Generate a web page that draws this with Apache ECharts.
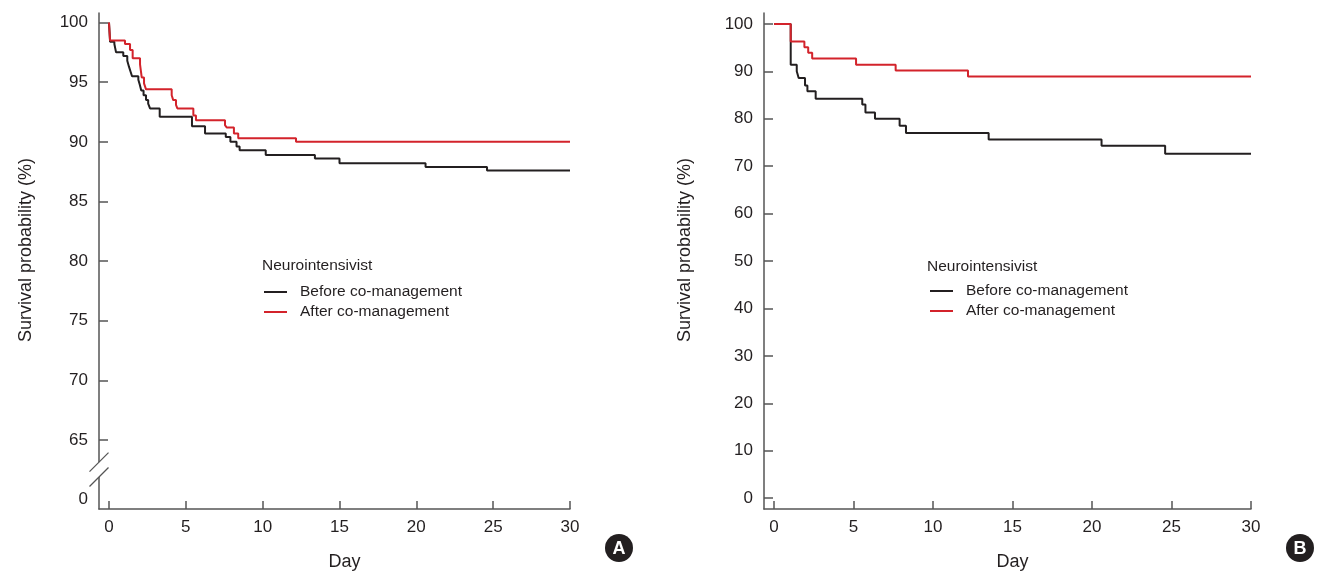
<!DOCTYPE html>
<html>
<head>
<meta charset="utf-8">
<script src="https://cdn.jsdelivr.net/npm/echarts@6/dist/echarts.min.js"></script>
<style>
html,body{margin:0;padding:0;background:#fff;}
#c{width:1320px;height:577px;}
</style>
</head>
<body>
<div id="c"></div>
<script>
// ---- data ----
const xTicks = [0, 5, 10, 15, 20, 25, 30];
const yTicksA = [65, 70, 75, 80, 85, 90, 95, 100];
const yLabelsA = [60, 65, 70, 75, 80, 85, 90, 95, 100]; // 60 is shown as "0" (broken axis)
const yTicksB = [0, 10, 20, 30, 40, 50, 60, 70, 80, 90, 100];

const beforeA_t = [0, 0.07, 0.35, 0.46, 0.93, 1.19, 1.3, 1.4, 1.5, 1.91, 2.0, 2.1, 2.25, 2.41, 2.55, 2.67, 3.3, 5.4, 6.25, 7.6, 7.9, 8.3, 8.5, 10.2, 13.4, 15.0, 20.6, 24.6, 30];
const beforeA_s = [100, 98.4, 98.2, 97.5, 97.2, 96.8, 96.3, 95.9, 95.5, 95.2, 94.8, 94.3, 93.9, 93.5, 93.2, 92.8, 92.1, 91.3, 90.7, 90.4, 90.0, 89.6, 89.3, 88.9, 88.6, 88.2, 87.9, 87.6, 87.6];

const afterA_t = [0, 0.07, 1.04, 1.37, 1.54, 2.02, 2.13, 2.28, 2.41, 4.08, 4.18, 4.36, 4.45, 5.49, 5.66, 7.55, 7.66, 8.13, 8.41, 12.17, 30];
const afterA_s = [100, 98.5, 98.2, 97.7, 97.0, 96.5, 95.4, 94.9, 94.4, 93.9, 93.5, 93.1, 92.8, 92.2, 91.8, 91.4, 91.2, 90.7, 90.3, 90.0, 90.0];

const beforeB_t = [0, 1.05, 1.43, 1.55, 1.95, 2.1, 2.62, 5.55, 5.75, 6.35, 7.9, 8.3, 13.5, 20.6, 24.6, 30];
const beforeB_s = [100, 91.4, 90.0, 88.6, 87.0, 85.8, 84.2, 83.0, 81.3, 80.0, 78.5, 77.0, 75.6, 74.3, 72.6, 72.6];

const afterB_t = [0, 1.05, 1.91, 2.15, 2.4, 5.16, 7.65, 12.2, 30];
const afterB_s = [100, 96.3, 95.1, 93.9, 92.7, 91.4, 90.2, 88.9, 88.9];

const seriesNames = ['Before co-management', 'After co-management'];
const legendTitle = 'Neurointensivist';

// axis extents / break positions
const xMinA = -0.65, xMinB = -0.63, xMax = 30;
const yMinA = 59.22, yMaxA = 100.8;
const yMinB = -2.3, yMaxB = 102.3;
const breakVals = [63.15, 61.9];

// ---- styling ----
const FONT = '"Liberation Sans", Arial, sans-serif';
const TXT = '#231f20';
const AX = '#555555';
const BLACK = '#231f20';
const RED = '#d3232b';

function zip(t, s) { return t.map((v, i) => [v, s[i]]); }

function xAxis(gi, min, shift) {
  return {
    type: 'value', gridIndex: gi, min: min, max: xMax,
    name: 'Day', nameLocation: 'middle', nameGap: 44,
    nameTextStyle: { fontFamily: FONT, fontSize: 18, color: TXT, padding: [0, 0, 0, shift] },
    axisLine: { show: true, onZero: false, lineStyle: { color: AX, width: 1.5 } },
    axisTick: { show: true, inside: true, length: 8, customValues: xTicks, lineStyle: { color: AX, width: 1.5 } },
    axisLabel: { customValues: xTicks, margin: 10, fontFamily: FONT, fontSize: 17, color: TXT },
    splitLine: { show: false }
  };
}
function yAxis(gi, min, max, ticks, labels, fmt, gap) {
  return {
    type: 'value', gridIndex: gi, min: min, max: max,
    name: 'Survival probability (%)', nameLocation: 'middle', nameGap: gap, nameRotate: 90,
    nameTextStyle: { fontFamily: FONT, fontSize: 18, color: TXT, padding: [0, 0, 0, 22] },
    axisLine: { show: true, onZero: false, lineStyle: { color: AX, width: 1.5 } },
    axisTick: { show: true, inside: true, length: 9, customValues: ticks, lineStyle: { color: AX, width: 1.5 } },
    axisLabel: { customValues: labels, margin: 11, fontFamily: FONT, fontSize: 17, color: TXT, formatter: fmt },
    splitLine: { show: false }
  };
}
function line(name, data, color, xi) {
  return {
    name: name, type: 'line', step: 'end', xAxisIndex: xi, yAxisIndex: xi,
    data: data, showSymbol: false, symbol: 'none', color: color,
    lineStyle: { color: color, width: 2 }, animation: false, silent: true
  };
}
const legendText = { fontFamily: FONT, fontSize: 15.5, color: TXT, lineHeight: 18, padding: [0, 0, 0, 8] };

const chart = echarts.init(document.getElementById('c'), null, { renderer: 'canvas' });
const option = {
  backgroundColor: '#fff',
  animation: false,
  grid: [
    { left: 99, right: 750, top: 13, bottom: 68 },
    { left: 764, right: 69, top: 13, bottom: 68 }
  ],
  title: [
    { text: legendTitle, left: 257, top: 253, textStyle: { fontFamily: FONT, fontSize: 15.5, fontWeight: 'normal', color: TXT } },
    { text: legendTitle, left: 922, top: 254, textStyle: { fontFamily: FONT, fontSize: 15.5, fontWeight: 'normal', color: TXT } }
  ],
  legend: [
    { data: seriesNames, left: 259, top: 278, orient: 'vertical', icon: 'rect', itemWidth: 23, itemHeight: 2, itemGap: 2,
      textStyle: legendText, selectedMode: false },
    { data: seriesNames, left: 925, top: 277, orient: 'vertical', icon: 'rect', itemWidth: 23, itemHeight: 2, itemGap: 2,
      textStyle: legendText, selectedMode: false }
  ],
  xAxis: [xAxis(0, xMinA, 20), xAxis(1, xMinB, 10)],
  yAxis: [
    yAxis(0, yMinA, yMaxA, yTicksA, yLabelsA, v => (Math.abs(v - 60) < 0.01 ? '0' : String(v)), 64),
    yAxis(1, yMinB, yMaxB, yTicksB, yTicksB, v => String(v), 70)
  ],
  series: [
    line(seriesNames[0], zip(beforeA_t, beforeA_s), BLACK, 0),
    line(seriesNames[1], zip(afterA_t, afterA_s), RED, 0),
    line(seriesNames[0], zip(beforeB_t, beforeB_s), BLACK, 1),
    line(seriesNames[1], zip(afterB_t, afterB_s), RED, 1)
  ]
};
chart.setOption(option);

// axis break marks on panel A and panel letters
const ax = chart.convertToPixel({ xAxisIndex: 0 }, xMinA);
const yb1 = chart.convertToPixel({ yAxisIndex: 0 }, breakVals[0]);
const yb2 = chart.convertToPixel({ yAxisIndex: 0 }, breakVals[1]);
const h = 9.5;
const gfx = [
  { type: 'rect', shape: { x: ax - 3, y: yb1, width: 6, height: yb2 - yb1 }, style: { fill: '#fff' }, z: 100 },
  { type: 'line', shape: { x1: ax - h, y1: yb1 + h, x2: ax + h, y2: yb1 - h }, style: { stroke: AX, lineWidth: 1.3 }, z: 101 },
  { type: 'line', shape: { x1: ax - h, y1: yb2 + h, x2: ax + h, y2: yb2 - h }, style: { stroke: AX, lineWidth: 1.3 }, z: 101 }
];
[['A', 619], ['B', 1300]].forEach(([L, cx]) => {
  gfx.push({ type: 'circle', shape: { cx: cx, cy: 548, r: 14 }, style: { fill: '#231f20' }, z: 100 });
  gfx.push({ type: 'text', x: cx, y: 549, style: { text: L, fill: '#fff', font: 'bold 18px ' + FONT, align: 'center', verticalAlign: 'middle' }, z: 101 });
});
chart.setOption({ graphic: gfx });
</script>
</body>
</html>
